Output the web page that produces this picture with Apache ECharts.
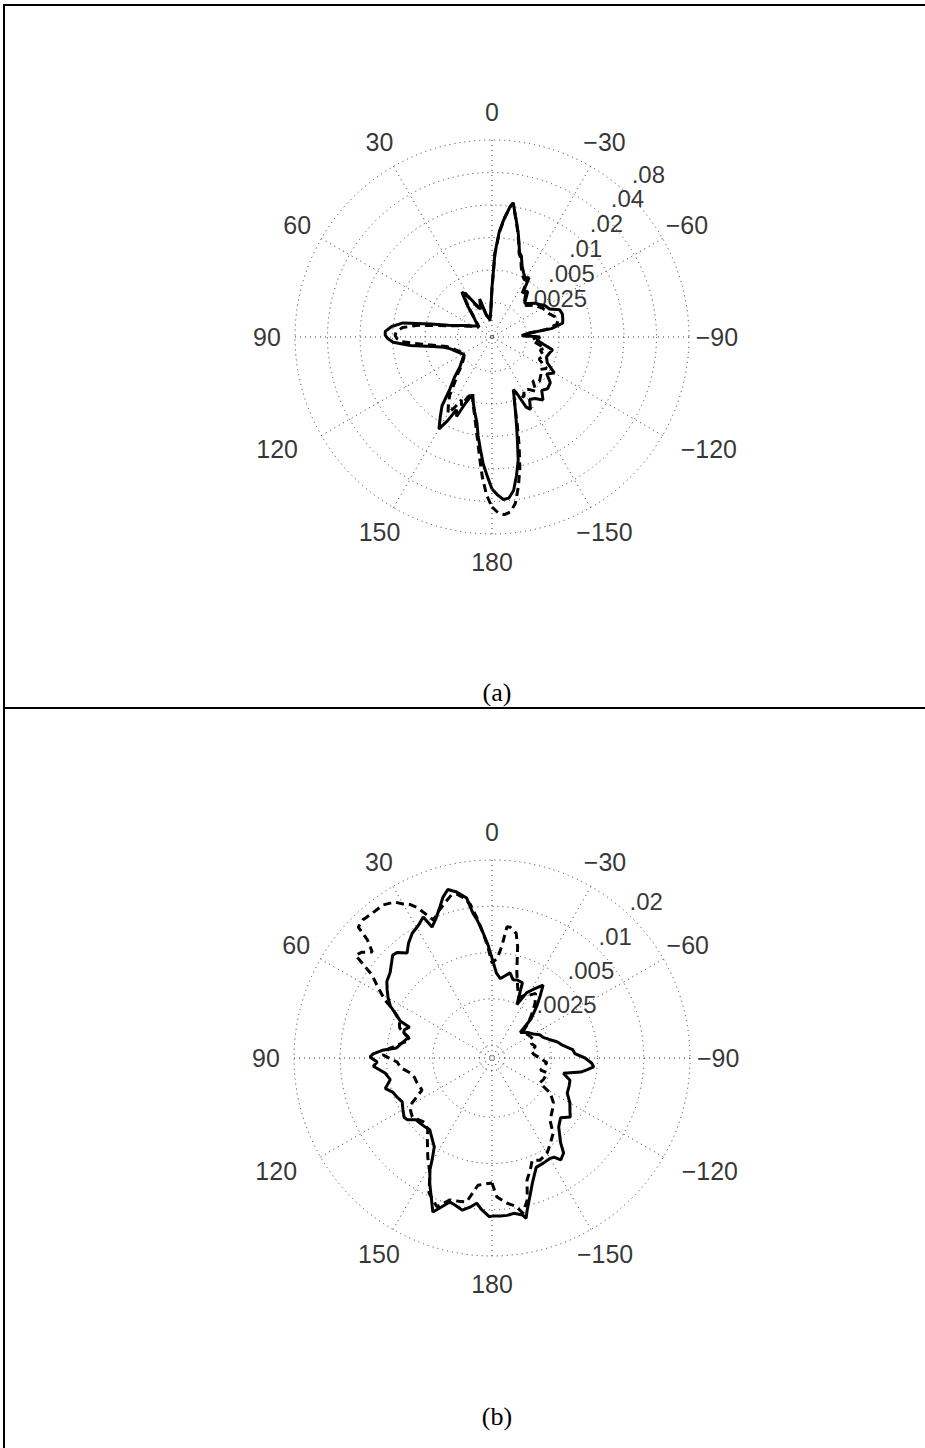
<!DOCTYPE html>
<html>
<head>
<meta charset="utf-8">
<script src="https://cdn.jsdelivr.net/npm/echarts@6/dist/echarts.min.js"></script>
<style>
html, body { margin: 0; padding: 0; background: #fff; }
#chart { width: 925px; height: 1448px; }
</style>
</head>
<body>
<div id="chart"></div>
<script>
// ---- tick labels -------------------------------------------------------
const angleTicks = [0, 30, 60, 90, 120, 150, 180, -150, -120, -90, -60, -30];
const angleTickLabels = ['0', '30', '60', '90', '120', '150', '180', '\u2212150', '\u2212120', '\u221290', '\u221260', '\u221230'];

const ringValuesA = [0.00125, 0.0025, 0.005, 0.01, 0.02, 0.04, 0.08];
const ringLabelsA = ['', '.0025', '.005', '.01', '.02', '.04', '.08'];
const ringValuesB = [0.00125, 0.0025, 0.005, 0.01, 0.02];
const ringLabelsB = ['', '.0025', '.005', '.01', '.02'];

// ---- panel (a): angle in degrees, magnitude ----------------------------
const anglesA = [-180, -178, -176, -174, -172, -170, -168, -166, -164, -162, -160, -158, -156, -154, -152, -149, -145, -141, -137, -133,
  -128, -124, -120, -115, -110, -105, -102, -98, -94, -90, -87, -84, -82, -79, -76, -72, -68, -64, -60, -56,
  -52, -48, -44, -41, -38, -35, -32, -29, -26, -23, -20, -18, -16, -14, -12, -10, -9, -8, -6, -4,
  -2, 0, 3, 8, 14, 18, 22, 27, 31, 34, 38, 44, 52, 60, 66, 71, 75, 78, 81, 84,
  87, 89, 91, 93, 96, 99, 102, 106, 110, 116, 122, 128, 133, 137, 141, 144, 147, 150, 152, 154,
  156, 158, 161, 164, 167, 170, 172, 174, 176, 178];

const solidA = [0.0306, 0.0348, 0.0387, 0.0379, 0.0327, 0.0242, 0.0176, 0.0112, 0.00783, 0.00593, 0.00479, 0.00404, 0.00459, 0.00632, 0.00689, 0.00568, 0.00593, 0.00674, 0.00568, 0.00606,
  0.00581, 0.0049, 0.00556, 0.0044, 0.00413, 0.00431, 0.00449, 0.00363, 0.00313, 0.00333, 0.00227, 0.00269, 0.00431, 0.00556, 0.00568, 0.00581, 0.00568, 0.00469, 0.00449, 0.00413,
  0.00387, 0.00348, 0.00326, 0.00363, 0.00413, 0.00379, 0.00533, 0.00511, 0.00556, 0.00619, 0.0075, 0.00799, 0.00969, 0.012, 0.0148, 0.0188, 0.0218, 0.02, 0.0155, 0.0115,
  0.00719, 0.00348, 0.00204, 0.00176, 0.00192, 0.00281, 0.00227, 0.00269, 0.00348, 0.00379, 0.00281, 0.00204, 0.00176, 0.00192, 0.00218, 0.00253, 0.00313, 0.00459, 0.00817, 0.0103,
  0.0117, 0.0117, 0.011, 0.0099, 0.00689, 0.00431, 0.00341, 0.003, 0.00281, 0.00258, 0.00242, 0.00269, 0.00306, 0.00387, 0.005, 0.00734, 0.00909, 0.0115, 0.00909, 0.00674,
  0.00766, 0.00556, 0.0044, 0.00511, 0.00619, 0.00766, 0.0101, 0.0131, 0.018, 0.0232];

const dashedA = [0.045, 0.0511, 0.0534, 0.0511, 0.0431, 0.0306, 0.0209, 0.0131, 0.00852, 0.00593, 0.00479, 0.00404, 0.00449, 0.00479, 0.00511, 0.00449, 0.00469, 0.00533, 0.00431, 0.00479,
  0.00449, 0.00413, 0.00459, 0.00363, 0.00387, 0.00348, 0.00379, 0.00313, 0.00281, 0.00313, 0.00227, 0.00269, 0.00387, 0.0049, 0.00511, 0.0049, 0.00449, 0.00431, 0.00413, 0.00387,
  0.00363, 0.00326, 0.00313, 0.00348, 0.00387, 0.00363, 0.0049, 0.0049, 0.00533, 0.00593, 0.00719, 0.0078, 0.0095, 0.0118, 0.0146, 0.0186, 0.0215, 0.0198, 0.0152, 0.0112,
  0.007, 0.0034, 0.002, 0.0017, 0.0019, 0.0026, 0.0022, 0.0026, 0.0033, 0.0036, 0.0027, 0.002, 0.0017, 0.0019, 0.0021, 0.0025, 0.003, 0.00387, 0.00593, 0.00817,
  0.00928, 0.00948, 0.00909, 0.00817, 0.00533, 0.00387, 0.0032, 0.0029, 0.0027, 0.0025, 0.0024, 0.0026, 0.0029, 0.0035, 0.00431, 0.00556, 0.0066, 0.00783, 0.0066, 0.00533,
  0.00593, 0.00479, 0.0042, 0.0052, 0.0064, 0.00852, 0.011, 0.0155, 0.0237, 0.0348];

// ---- panel (b) ----------------------------------------------------------
const anglesSolidB = [-180, -177, -174.5, -172, -169, -168, -167, -164, -162, -158, -154, -150, -148, -146, -143, -141, -136, -131, -127, -124,
  -120, -115, -110, -106, -102, -99, -97, -95, -93, -90, -87, -84, -80, -76, -72, -68, -64, -60, -56, -52,
  -48, -45, -41, -38, -35, -31, -28, -25, -22, -18, -15, -12, -8, -6, -3, 0, 2, 4, 6, 7.5,
  9, 12, 14.7, 17, 19, 22, 24.6, 26, 29, 32.6, 36, 39, 42, 44, 48, 50, 54, 57, 60, 63,
  66, 68, 69.5, 72, 74, 76, 78, 81, 84, 86, 88, 89.5, 92, 94, 98, 102, 106, 109, 112, 116,
  120, 124, 126, 129, 132, 136, 139, 143, 147, 149.5, 151, 153.6, 156, 159, 161, 163.7, 166, 169, 172, 174,
  176, 179];

const solidB = [0.011, 0.011, 0.011, 0.0108, 0.0113, 0.012, 0.0107, 0.00839, 0.00733, 0.00603, 0.00594, 0.00585, 0.00594, 0.0065, 0.00612, 0.00527, 0.00434, 0.00402, 0.00447, 0.00421,
  0.00396, 0.00357, 0.00352, 0.00347, 0.00307, 0.00396, 0.00434, 0.00475, 0.0046, 0.00415, 0.00357, 0.00347, 0.00303, 0.00281, 0.00253, 0.00235, 0.00228, 0.00211, 0.00202, 0.00193,
  0.00182, 0.00235, 0.00285, 0.00331, 0.00391, 0.00341, 0.00312, 0.00249, 0.00347, 0.00352, 0.00347, 0.00379, 0.00352, 0.00341, 0.00368, 0.0046, 0.00559, 0.0067, 0.00814, 0.00918,
  0.01165, 0.0131, 0.014, 0.01275, 0.0113, 0.00974, 0.00891, 0.0108, 0.01, 0.00946, 0.00864, 0.00778, 0.00864, 0.00877, 0.0079, 0.00755, 0.00722, 0.0067, 0.00621, 0.00568,
  0.00489, 0.00454, 0.00385, 0.00408, 0.00408, 0.00373, 0.00385, 0.00408, 0.00434, 0.00535, 0.00612, 0.0064, 0.00576, 0.00612, 0.00519, 0.00489, 0.00543, 0.00496, 0.00481, 0.0046,
  0.00481, 0.00504, 0.00496, 0.00447, 0.00441, 0.00434, 0.00427, 0.0046, 0.00504, 0.00603, 0.00701, 0.00839, 0.00974, 0.0122, 0.011, 0.00974, 0.01, 0.0105, 0.00974, 0.00918,
  0.01, 0.0111];

const anglesDashedB = [-180, -178, -174, -171, -168.7, -166, -164, -161, -158.6, -154.8, -150, -146, -141, -137, -131, -126, -121, -117.5, -112, -105,
  -104, -100, -95, -90, -85, -80, -75, -70, -65, -60, -55, -50, -46, -42, -38, -34, -30, -27, -24, -20,
  -16, -13, -11, -8, -6.5, -5, -3, 0, 2, 4, 6, 8, 10, 12, 14, 17, 20, 23, 26.4, 28.2,
  30, 32, 35.5, 40, 43, 45.6, 46.5, 48.5, 51, 53, 55.3, 58, 61.5, 64, 68, 72, 77.6, 82, 85, 88.4,
  92.4, 96, 100.4, 104, 108.4, 114.6, 119.4, 123, 126.4, 130, 134, 138, 142, 147, 151.7, 155, 159.7, 163.5, 167, 170,
  173.7, 177];

const dashedB = [0.0067, 0.00826, 0.00918, 0.00974, 0.011, 0.00918, 0.0069, 0.00603, 0.00535, 0.00559, 0.00535, 0.00489, 0.00441, 0.00368, 0.00341, 0.00321, 0.00285, 0.00231, 0.00238, 0.00242,
  0.00218, 0.00224, 0.00235, 0.00211, 0.00193, 0.00187, 0.00202, 0.00193, 0.00202, 0.00199, 0.00193, 0.00187, 0.00218, 0.00253, 0.00294, 0.00331, 0.00303, 0.00294, 0.00277, 0.00317,
  0.00396, 0.00568, 0.0069, 0.00744, 0.00744, 0.00551, 0.0046, 0.00427, 0.00535, 0.0067, 0.00839, 0.0105, 0.0118, 0.0126, 0.01275, 0.01165, 0.0107, 0.00974, 0.01275, 0.014,
  0.0148, 0.0162, 0.0172, 0.0172, 0.0175, 0.017, 0.0135, 0.0113, 0.01275, 0.0133, 0.00918, 0.00778, 0.0064, 0.00535, 0.0046, 0.00441, 0.00362, 0.00427, 0.00489, 0.00527,
  0.00427, 0.00408, 0.00357, 0.00341, 0.00336, 0.00326, 0.00408, 0.00441, 0.00454, 0.00434, 0.00415, 0.00434, 0.00496, 0.00603, 0.00733, 0.0096, 0.0111, 0.00946, 0.00932, 0.00918,
  0.00701, 0.0068];

// ---- helpers -------------------------------------------------------------
const BASE = 0.00125;                       // innermost ring
const level = v => Math.log2(v / BASE);     // log2 radial scale, one ring per doubling
const toTheta = a => (a < 0 ? a + 360 : a);

function closedCurve(angles, values) {
  const pts = angles.map((a, i) => [level(values[i]), toTheta(a)]);
  pts.push(pts[0]);
  return pts;
}

const FONT = '"Liberation Sans", Arial, Helvetica, sans-serif';
const SERIF = '"Liberation Serif", "Times New Roman", serif';
const gridStyle = { color: '#333', width: 1, type: [1, 4] };
const LABEL_RADIUS = 1.142;                 // angle labels sit just outside the outer ring
// the +/-120 labels are pushed a little further out sideways
const labelShift = { 120: [-20, 0], '-120': [22, 0] };

function angleAxis(idx) {
  return {
    polarIndex: idx, type: 'value', min: 0, max: 360, interval: 30,
    startAngle: 90, clockwise: false,
    axisLine: { show: false }, axisTick: { show: false }, axisLabel: { show: false },
    splitLine: { show: true, lineStyle: gridStyle }
  };
}

function radiusAxis(idx, ringValues, innerOffset) {
  const levels = ringValues.map(level);
  return {
    polarIndex: idx, type: 'value', min: -innerOffset, max: levels[levels.length - 1],
    axisLine: { show: false },
    axisTick: { show: false, customValues: levels },
    axisLabel: { show: false },
    splitLine: { show: true, lineStyle: gridStyle }
  };
}

// angle tick labels, centred on a circle slightly larger than the plot
function angleLabelSeries(idx, ringValues, innerOffset) {
  const lo = -innerOffset, hi = level(ringValues[ringValues.length - 1]);
  const r = lo + (hi - lo) * LABEL_RADIUS;
  return {
    type: 'scatter', coordinateSystem: 'polar', polarIndex: idx, symbolSize: 1, clip: false,
    itemStyle: { color: 'rgba(0,0,0,0)' }, silent: true, z: 5,
    label: {
      show: true, formatter: '{b}', position: 'inside', align: 'center', verticalAlign: 'middle',
      color: '#000', fontFamily: FONT, fontSize: 25
    },
    data: angleTicks.map((a, i) => ({
      name: angleTickLabels[i], value: [r, toTheta(a)],
      label: { offset: labelShift[a] || [0, 0] }
    }))
  };
}

function ringLabelSeries(idx, ringValues, ringLabels, angle, offset) {
  const data = [];
  ringValues.forEach((v, k) => { if (ringLabels[k]) data.push({ name: ringLabels[k], value: [level(v), angle] }); });
  return {
    type: 'scatter', coordinateSystem: 'polar', polarIndex: idx, symbolSize: 1, clip: false,
    itemStyle: { color: 'rgba(0,0,0,0)' }, silent: true, z: 5,
    label: {
      show: true, formatter: '{b}', position: 'inside', align: 'left', verticalAlign: 'bottom',
      lineHeight: 20, offset: offset, color: '#000', fontFamily: FONT, fontSize: 24
    },
    data: data
  };
}

function lineSeries(idx, data, dashed) {
  return {
    type: 'line', coordinateSystem: 'polar', polarIndex: idx,
    showSymbol: false, symbol: 'none', smooth: false, silent: true,
    lineStyle: { color: '#000', width: 3, type: dashed ? [8, 5] : 'solid' },
    data: data, z: 3
  };
}

const chart = echarts.init(document.getElementById('chart'), null, { renderer: 'svg' });
chart.setOption({
  animation: false,
  backgroundColor: '#fff',
  title: [
    { text: '(a)', left: 492, top: 674, textAlign: 'center',
      textStyle: { fontFamily: SERIF, fontSize: 26, fontWeight: 'normal', color: '#000' } },
    { text: '(b)', left: 492, top: 1398, textAlign: 'center',
      textStyle: { fontFamily: SERIF, fontSize: 26, fontWeight: 'normal', color: '#000' } }
  ],
  graphic: [
    { type: 'line', shape: { x1: 3, y1: 5, x2: 925, y2: 5 }, style: { stroke: '#000', lineWidth: 2 } },
    { type: 'line', shape: { x1: 4, y1: 4, x2: 4, y2: 1448 }, style: { stroke: '#000', lineWidth: 2 } },
    { type: 'line', shape: { x1: 4, y1: 708, x2: 925, y2: 708 }, style: { stroke: '#000', lineWidth: 2 } }
  ],
  polar: [
    { center: [492, 337], radius: 197 },
    { center: [492, 1058], radius: 198 }
  ],
  angleAxis: [angleAxis(0), angleAxis(1)],
  radiusAxis: [radiusAxis(0, ringValuesA, 0.06), radiusAxis(1, ringValuesB, 0.28)],
  series: [
    lineSeries(0, closedCurve(anglesA, dashedA), true),
    lineSeries(0, closedCurve(anglesA, solidA), false),
    angleLabelSeries(0, ringValuesA, 0.06),
    ringLabelSeries(0, ringValuesA, ringLabelsA, 320, [13, -2]),
    lineSeries(1, closedCurve(anglesDashedB, dashedB), true),
    lineSeries(1, closedCurve(anglesSolidB, solidB), false),
    angleLabelSeries(1, ringValuesB, 0.28),
    ringLabelSeries(1, ringValuesB, ringLabelsB, 318, [5, 1])
  ]
});
</script>
</body>
</html>
